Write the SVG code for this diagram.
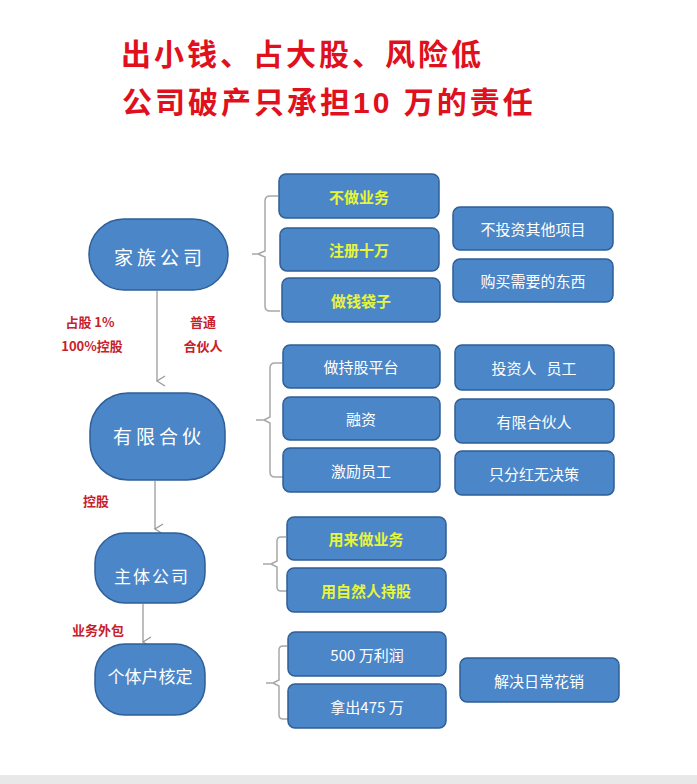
<svg xmlns="http://www.w3.org/2000/svg" width="697" height="784" viewBox="0 0 697 784">
<defs>
<style>
.n{fill:#4a86c8;stroke:#2f5f96;stroke-width:1.5}
.b{fill:#4a86c8;stroke:#2f5f96;stroke-width:1.5}
.t{font-family:"Noto Sans CJK SC",sans-serif;font-size:15px;fill:#fff;text-anchor:middle;dominant-baseline:central}
.y{fill:#e6f53c;font-weight:bold}
.big{font-size:19px;letter-spacing:4px}
.r{font-family:"Noto Sans CJK SC",sans-serif;font-size:13px;fill:#c8202a;font-weight:bold;text-anchor:middle}
.h{font-family:"Liberation Sans","Noto Sans CJK SC",sans-serif;font-size:30px;fill:#e0101c;font-weight:bold;letter-spacing:3px}
.c{fill:none;stroke:#a8a8a8;stroke-width:1.5}
</style>
<marker id="a" markerWidth="12" markerHeight="12" refX="6" refY="10" orient="auto-start-reverse" markerUnits="userSpaceOnUse" viewBox="0 0 12 12"><path d="M1 2 L6 10 L11 2" fill="none" stroke="#999" stroke-width="1.3"/></marker>
</defs>
<rect width="697" height="784" fill="#fff"/>
<rect y="775" width="697" height="9" fill="#e8e8e8"/>
<text class="h" x="121" y="65">出小钱、占大股、风险低</text>
<text class="h" x="122" y="113" xml:space="preserve">公司破产只承担10 万的责任</text>
<g id="connectors">
<path class="c" d="M157 291 V381" marker-end="url(#a)"/>
<path class="c" d="M155 481 V529" marker-end="url(#a)"/>
<path class="c" d="M143 604 V642" marker-end="url(#a)"/>
<path class="c" d="M278 196 H270 Q265 196 265 201 V251 L258 254 H252 M258 254 L265 257 V306 Q265 311 270 311 H280"/>
<path class="c" d="M282 363 H275 Q270 363 270 368 V417 L264 420 H256 M264 420 L270 423 V472 Q270 477 275 477 H283"/>
<path class="c" d="M286 537 H281 Q277 537 277 541 V561 L271 564 H263 M271 564 L277 567 V587 Q277 591 281 591 H287"/>
<path class="c" d="M287 646 H283 Q279 646 279 650 V680 L273 683 H266 M273 683 L279 686 V715 Q279 719 283 719 H288"/>
</g>
<text class="r" x="90" y="327">占股 1%</text>
<text class="r" x="92" y="351">100%控股</text>
<text class="r" x="203" y="327">普通</text>
<text class="r" x="203" y="351">合伙人</text>
<text class="r" x="96" y="506">控股</text>
<text class="r" x="98" y="635">业务外包</text>
<g id="n1"><rect class="n" x="89" y="219" width="139" height="71" rx="35"/><text class="t big" x="160" y="256">家族公司</text></g>
<g id="n2"><rect class="n" x="90" y="393" width="135" height="87" rx="38"/><text class="t big" x="159" y="435">有限合伙</text></g>
<g id="n3"><rect class="n" x="95" y="533" width="110" height="70" rx="30"/><text class="t big" x="152" y="575" style="font-size:17px;letter-spacing:2px">主体公司</text></g>
<g id="n4"><rect class="n" x="95" y="644" width="110" height="71" rx="30"/><text class="t big" x="150" y="675" style="font-size:17px;letter-spacing:0">个体户核定</text></g>
<g id="m1"><rect class="b" x="279" y="174" width="160" height="44" rx="7"/><text class="t y" x="359" y="196">不做业务</text></g>
<g id="m2"><rect class="b" x="280" y="228" width="159" height="43" rx="7"/><text class="t y" x="359" y="249">注册十万</text></g>
<g id="m3"><rect class="b" x="282" y="278" width="158" height="44" rx="7"/><text class="t y" x="361" y="300">做钱袋子</text></g>
<g id="m4"><rect class="b" x="283" y="345" width="157" height="43" rx="7"/><text class="t" x="361" y="366">做持股平台</text></g>
<g id="m5"><rect class="b" x="283" y="397" width="157" height="43" rx="7"/><text class="t" x="361" y="418">融资</text></g>
<g id="m6"><rect class="b" x="283" y="448" width="157" height="44" rx="7"/><text class="t" x="361" y="470">激励员工</text></g>
<g id="m7"><rect class="b" x="287" y="517" width="159" height="43" rx="7"/><text class="t y" x="366" y="538">用来做业务</text></g>
<g id="m8"><rect class="b" x="287" y="568" width="159" height="44" rx="7"/><text class="t y" x="366" y="590">用自然人持股</text></g>
<g id="m9"><rect class="b" x="288" y="632" width="158" height="44" rx="7"/><text class="t" x="367" y="654">500 万利润</text></g>
<g id="m10"><rect class="b" x="288" y="684" width="158" height="44" rx="7"/><text class="t" x="367" y="706">拿出475 万</text></g>
<g id="r1"><rect class="b" x="453" y="207" width="160" height="43" rx="7"/><text class="t" x="533" y="228">不投资其他项目</text></g>
<g id="r2"><rect class="b" x="453" y="259" width="160" height="43" rx="7"/><text class="t" x="533" y="280">购买需要的东西</text></g>
<g id="r3"><rect class="b" x="455" y="345" width="159" height="45" rx="7"/><text class="t" x="534" y="367" xml:space="preserve">投资人   员工</text></g>
<g id="r4"><rect class="b" x="455" y="399" width="159" height="44" rx="7"/><text class="t" x="534" y="421">有限合伙人</text></g>
<g id="r5"><rect class="b" x="455" y="451" width="159" height="44" rx="7"/><text class="t" x="534" y="473">只分红无决策</text></g>
<g id="r6"><rect class="b" x="460" y="658" width="159" height="44" rx="7"/><text class="t" x="539" y="680">解决日常花销</text></g>
</svg>
